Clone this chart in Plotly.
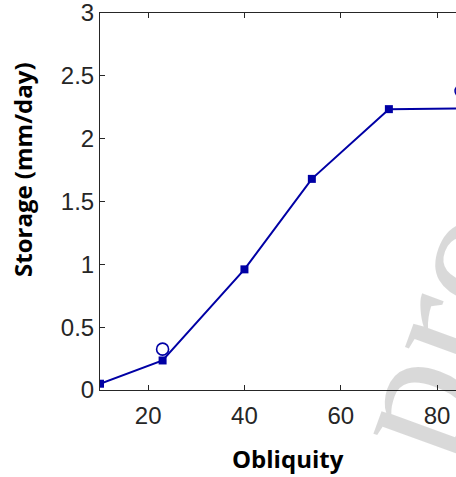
import plotly.graph_objects as go

obliquity = [10, 23, 40, 54, 70, 85]
storage = [0.05, 0.235, 0.96, 1.68, 2.235, 2.24]
circle_x = [23, 85]
circle_y = [0.325, 2.38]

blue = "rgb(0,0,165)"
axis_col = "#262626"

L, T, B = 100, 13, 87
W, H = 456, 477
PW, PH = W - L, H - T - B

fig = go.Figure()
fig.add_trace(go.Scatter(x=obliquity, y=storage, mode="lines+markers",
                         line=dict(color=blue, width=2),
                         marker=dict(symbol="square", size=8, color=blue),
                         showlegend=False))
fig.add_trace(go.Scatter(x=circle_x, y=circle_y, mode="markers",
                         marker=dict(symbol="circle-open", size=12, color=blue,
                                     line=dict(width=1.6, color=blue)),
                         showlegend=False))

fig.update_layout(
    width=W, height=H,
    margin=dict(l=L, r=0, t=T, b=B),
    paper_bgcolor="white", plot_bgcolor="white",
    xaxis=dict(range=[10, 83.94], tickvals=[20, 40, 60, 80],
               ticks="inside", ticklen=5, tickcolor=axis_col,
               showline=True, linecolor=axis_col, linewidth=1,
               mirror="ticks", showgrid=False, zeroline=False,
               ticklabelstandoff=4, ticklabeloverflow="allow",
               tickfont=dict(family="Liberation Sans, Arial", size=24, color=axis_col)),
    yaxis=dict(range=[0, 3], tickvals=[0, 0.5, 1, 1.5, 2, 2.5, 3],
               ticktext=["0", "0.5", "1", "1.5", "2", "2.5", "3"],
               ticks="inside", ticklen=5, tickcolor=axis_col,
               showline=True, linecolor=axis_col, linewidth=1,
               mirror=False, showgrid=False, zeroline=False,
               ticklabeloverflow="allow",
               tickfont=dict(family="Liberation Sans, Arial", size=24, color=axis_col)),
    annotations=[
        dict(text="proof", xref="paper", yref="paper",
             x=(461 - L) / PW, y=(390 - 257) / PH,
             xanchor="center", yanchor="middle",
             showarrow=False, textangle=-70,
             font=dict(family="Liberation Serif, Times New Roman", size=185,
                       color="rgba(0,0,0,0.15)")),
        dict(text="<b>Storage (mm/day)</b>", xref="paper", yref="paper",
             x=(22 - L) / PW, y=(390 - 170) / PH, showarrow=False, textangle=-90,
             xanchor="center", yanchor="middle",
             font=dict(family="Open Sans", size=24, color="black")),
        dict(text="<b>Obliquity</b>", xref="paper", yref="paper",
             x=(287.5 - L) / PW, y=(390 - 458) / PH, showarrow=False,
             xanchor="center", yanchor="middle",
             font=dict(family="Open Sans", size=24, color="black")),
    ],
)

fig.write_html("out.html", config={"displayModeBar": False},
               post_script="document.body.style.margin='0px';")
